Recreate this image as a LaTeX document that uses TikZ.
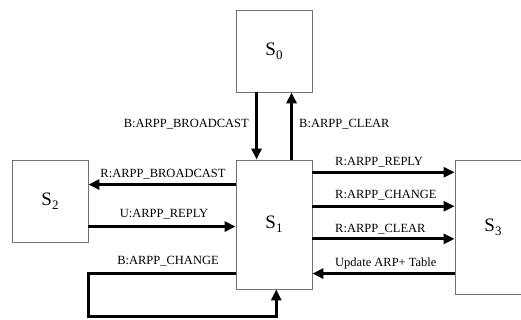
\documentclass[tikz,border=0pt]{standalone}
\usepackage{fontspec}
\setmainfont{Liberation Serif}
\usetikzlibrary{arrows.meta,calc}
\tikzset{
  box/.style={draw=black!55, line width=0.9pt, fill=white, minimum width=76pt, inner sep=0pt,
              font=\fontsize{19}{22}\selectfont},
  arr/.style={line width=3pt, -{Triangle[length=11pt,width=10pt]}},
  lbl/.style={inner sep=0pt, anchor=base, font=\fontsize{12.5}{14}\selectfont},
}
\newcommand{\sname}[1]{S\raisebox{-4pt}{\fontsize{13}{13}\selectfont #1}}
\begin{document}
\begin{tikzpicture}[x=1pt,y=-1pt]
\useasboundingbox (0,0) rectangle (521,320);
\node[box, minimum height=82pt] (s0) at (274,51) {\sname{0}};
\node[box, minimum height=129pt] (s1) at (274,224.5) {\sname{1}};
\node[box, minimum height=82pt] (s2) at (50,201) {\sname{2}};
\node[box, minimum height=134pt] (s3) at (493,227) {\sname{3}};
\coordinate (loopc) at (88.7,316);
% S0 <-> S1
\draw[arr] ([xshift=21pt]s0.south west) -- ([xshift=21pt]s1.north west);
\draw[arr] ([xshift=56pt]s1.north west) -- ([xshift=56pt]s0.south west);
% S1 <-> S2
\draw[arr] ([yshift=-25pt]s1.north west) -- ([yshift=-25pt]s2.north east);
\draw[arr] ([yshift=-67pt]s2.north east) -- ([yshift=-67pt]s1.north west);
% S1 <-> S3
\draw[arr] ([yshift=-12.7pt]s1.north east) -- ([yshift=-12.7pt]s3.north west);
\draw[arr] ([yshift=-46.7pt]s1.north east) -- ([yshift=-46.7pt]s3.north west);
\draw[arr] ([yshift=-79.3pt]s1.north east) -- ([yshift=-79.3pt]s3.north west);
\draw[arr] ([yshift=-114pt]s3.north west) -- ([yshift=-114pt]s1.north east);
% loop
\draw[arr] ([yshift=-114pt]s1.north west) -| (loopc) -| ([xshift=40.7pt]s1.south west);
% labels
\node[lbl, anchor=base east] (l1) at (249,127.5) {B:ARPP\_BROADCAST};
\node[lbl, anchor=base west] (l2) at (299,127.5) {B:ARPP\_CLEAR};
\node[lbl] (l3) at (163,177.5) {R:ARPP\_BROADCAST};
\node[lbl] (l4) at (164,217) {U:ARPP\_REPLY};
\node[lbl] (l5) at (168,264) {B:ARPP\_CHANGE};
\node[lbl, anchor=base west] (l6) at (335,165.5) {R:ARPP\_REPLY};
\node[lbl, anchor=base west] (l7) at (335,199) {R:ARPP\_CHANGE};
\node[lbl, anchor=base west] (l8) at (335,232.5) {R:ARPP\_CLEAR};
\node[lbl, anchor=base west] (l9) at (335,266) {Update ARP+ Table};
\end{tikzpicture}
\end{document}
